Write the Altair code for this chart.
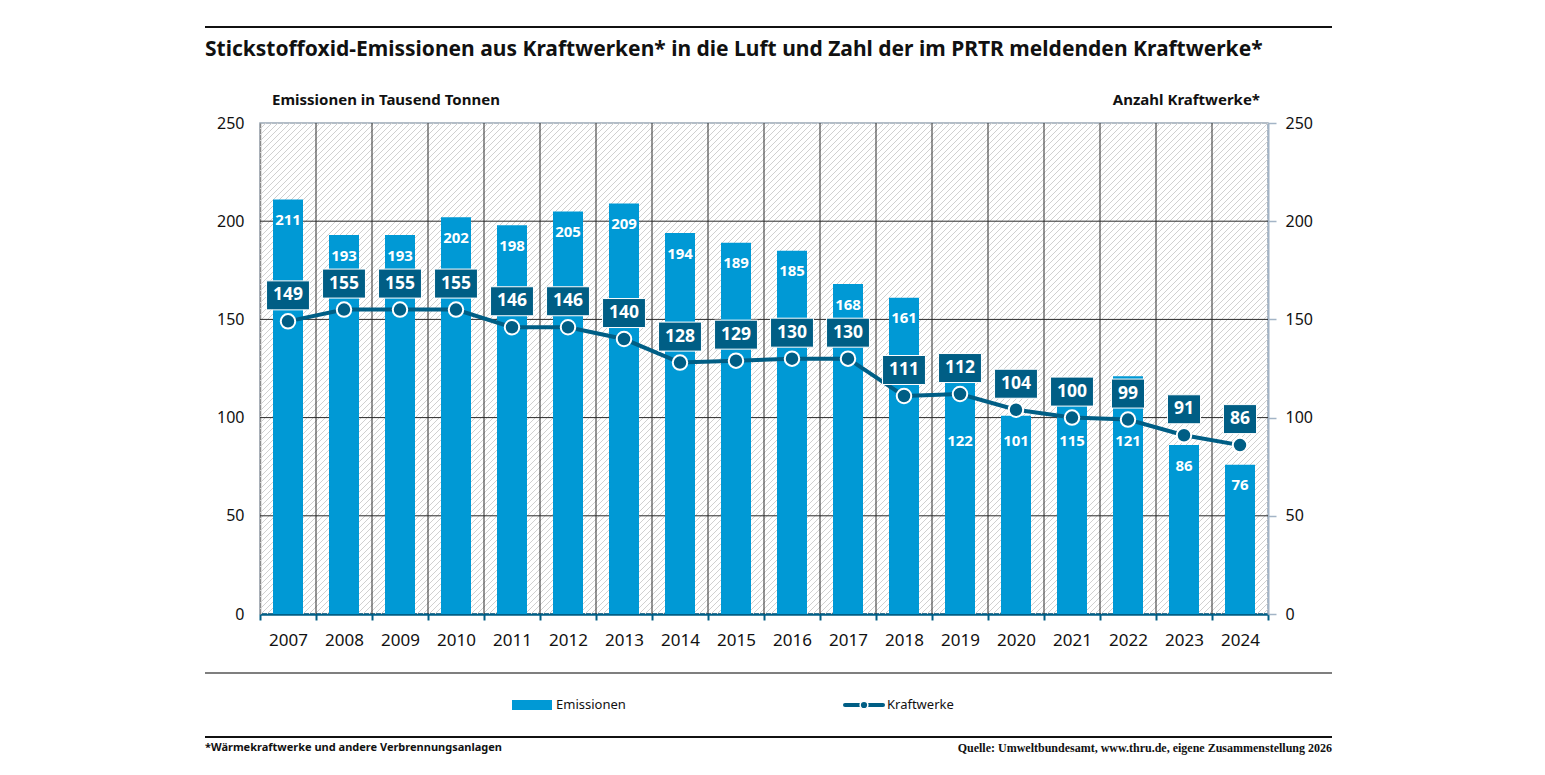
import altair as alt
import pandas as pd

years = list(range(2007, 2025))
emissions = [211, 193, 193, 202, 198, 205, 209, 194, 189, 185, 168, 161, 122, 101, 115, 121, 86, 76]
plants = [149, 155, 155, 155, 146, 146, 140, 128, 129, 130, 130, 111, 112, 104, 100, 99, 91, 86]
y_ticks = [0, 50, 100, 150, 200, 250]
grid_vals = [50, 100, 150, 200]

title_text = "Stickstoffoxid-Emissionen aus Kraftwerken* in die Luft und Zahl der im PRTR meldenden Kraftwerke*"
left_title = "Emissionen in Tausend Tonnen"
right_title = "Anzahl Kraftwerke*"
legend_bar = "Emissionen"
legend_line = "Kraftwerke"
footnote = "*Wärmekraftwerke und andere Verbrennungsanlagen"
source = "Quelle: Umweltbundesamt, www.thru.de, eigene Zusammenstellung 2026"

df = pd.DataFrame({"year": years, "emis": emissions, "count": plants})

W, H = 1008, 491
BLUE = "#0099d5"
TEAL = "#005e85"
FONT = "Noto Sans"

xs = alt.Scale(paddingInner=0, paddingOuter=0)
ydom = alt.Scale(domain=[0, 250])

x_axis = alt.Axis(
    title=None,
    labelAngle=0,
    tickBand="extent",
    domainColor=TEAL,
    domainWidth=2.5,
    tickColor=TEAL,
    tickWidth=2,
    tickSize=6,
    labelPadding=12,
    labelFontSize=17,
    labelColor="#111",
    labelFont=FONT,
    grid=False,
)
X = alt.X("year:O", scale=xs, axis=x_axis)

base = alt.Chart(df)

# hatch background (decoration)
hatch = alt.Chart(alt.sequence(-H, W + 6, 6, as_="k")).transform_calculate(
    k2="datum.k + %d" % H
).mark_rule(clip=True, stroke="#d0d0d0", strokeWidth=1).encode(
    x=alt.X("k:Q", scale=None, axis=None),
    x2="k2:Q",
    y=alt.value(H),
    y2=alt.value(0),
)

vgrid = base.transform_filter(alt.datum.year > years[0]).mark_rule(
    color="#2a2a2a", strokeWidth=1
).encode(x=alt.X("year:O", bandPosition=0, scale=xs, axis=x_axis))

hgrid = alt.Chart(pd.DataFrame({"g": grid_vals})).mark_rule(
    color="#2a2a2a", strokeWidth=1
).encode(y=alt.Y("g:Q", scale=ydom, axis=None))

bars = base.mark_bar(width=30, color=BLUE).encode(
    x=X,
    y=alt.Y(
        "emis:Q",
        scale=ydom,
        axis=alt.Axis(
            title=None,
            orient="left",
            values=y_ticks,
            grid=False,
            ticks=False,
            domainColor="#8a8a8a",
            domainWidth=1.5,
            labelPadding=16,
            labelFontSize=16,
            labelColor="#111",
            labelFont=FONT,
        ),
    ),
)

line = base.mark_line(color=TEAL, strokeWidth=4).encode(
    x=X,
    y=alt.Y("count:Q", scale=ydom, axis=None),
)

pts = base.mark_circle(size=210, color=TEAL, stroke="white", strokeWidth=2, opacity=1).encode(
    x=X,
    y=alt.Y(
        "count:Q",
        scale=ydom,
        axis=alt.Axis(
            title=None,
            orient="right",
            values=y_ticks,
            grid=False,
            domainColor="#a3b4c6",
            domainWidth=2,
            tickColor="#a3b4c6",
            tickWidth=1.5,
            tickSize=8,
            labelPadding=9,
            labelFontSize=16,
            labelColor="#111",
            labelFont=FONT,
        ),
    ),
)

path3 = "M-1.48,-1L1.48,-1L1.48,1L-1.48,1Z"
path2 = "M-1.14,-1L1.14,-1L1.14,1L-1.14,1Z"

boxes = base.mark_point(
    filled=True, fill=TEAL, stroke="white", strokeWidth=1, size=841, yOffset=-26, opacity=1
).encode(
    x=X,
    y=alt.Y("count:Q", scale=ydom, axis=None),
    shape=alt.condition(alt.datum["count"] >= 100, alt.value(path3), alt.value(path2)),
)

box_txt = base.mark_text(
    color="white", fontWeight="bold", fontSize=17.5, font=FONT, yOffset=-26, baseline="middle"
).encode(
    x=X,
    y=alt.Y("count:Q", scale=ydom, axis=None),
    text="count:Q",
)

bar_txt = base.transform_calculate(
    lab="abs(datum.emis - 10.5 - datum.count) < 14 ? 88 : datum.emis - 10.5"
).mark_text(color="white", fontWeight="bold", fontSize=15, font=FONT, baseline="middle").encode(
    x=X,
    y=alt.Y("lab:Q", scale=ydom, axis=None),
    text="emis:Q",
)

one = alt.Data(values=[{}])


def txt(s, x, y, align="left", size=13, weight="normal", font=FONT):
    return alt.Chart(one).mark_text(
        text=s, align=align, baseline="middle", fontSize=size, fontWeight=weight, font=font, color="#111"
    ).encode(x=alt.value(x), y=alt.value(y))


def hrule(y, w, c):
    return alt.Chart(one).mark_rule(color=c, strokeWidth=w).encode(
        x=alt.value(-55), x2=alt.value(1072), y=alt.value(y)
    )


deco = [
    hrule(-96, 2, "#111"),
    hrule(550, 1.3, "#555"),
    hrule(614, 2, "#111"),
    txt(title_text, -55, -73, size=21, weight="bold"),
    txt(left_title, 12, -23, size=15, weight="bold"),
    txt(right_title, 1000, -23, align="right", size=15, weight="bold"),
    txt(footnote, -55, 625, size=11, weight="bold"),
    txt(source, 1072, 625, align="right", size=12, weight="bold", font="Liberation Serif"),
    alt.Chart(one).mark_rect(color=BLUE).encode(
        x=alt.value(252), x2=alt.value(292), y=alt.value(577), y2=alt.value(587)
    ),
    txt(legend_bar, 296, 582, size=13),
    alt.Chart(one).mark_rule(color=TEAL, strokeWidth=4, strokeCap="round").encode(
        x=alt.value(585), x2=alt.value(623), y=alt.value(582)
    ),
    alt.Chart(one).mark_point(filled=True, fill=TEAL, stroke="white", strokeWidth=1.5, size=60, opacity=1).encode(
        x=alt.value(604), y=alt.value(582)
    ),
    txt(legend_line, 627, 582, size=13),
]

chart = alt.layer(
    hatch, vgrid, hgrid, bars, line, pts, boxes, box_txt, bar_txt, *deco
).resolve_scale(y="independent").properties(
    width=W,
    height=H,
    autosize=alt.AutoSizeParams(type="none"),
    padding={"left": 252, "top": 115, "right": 75, "bottom": 150},
).configure_view(stroke="#9aa8b5", strokeWidth=1.5)

chart.save("out.html", embed_options={"renderer": "svg", "actions": False})
